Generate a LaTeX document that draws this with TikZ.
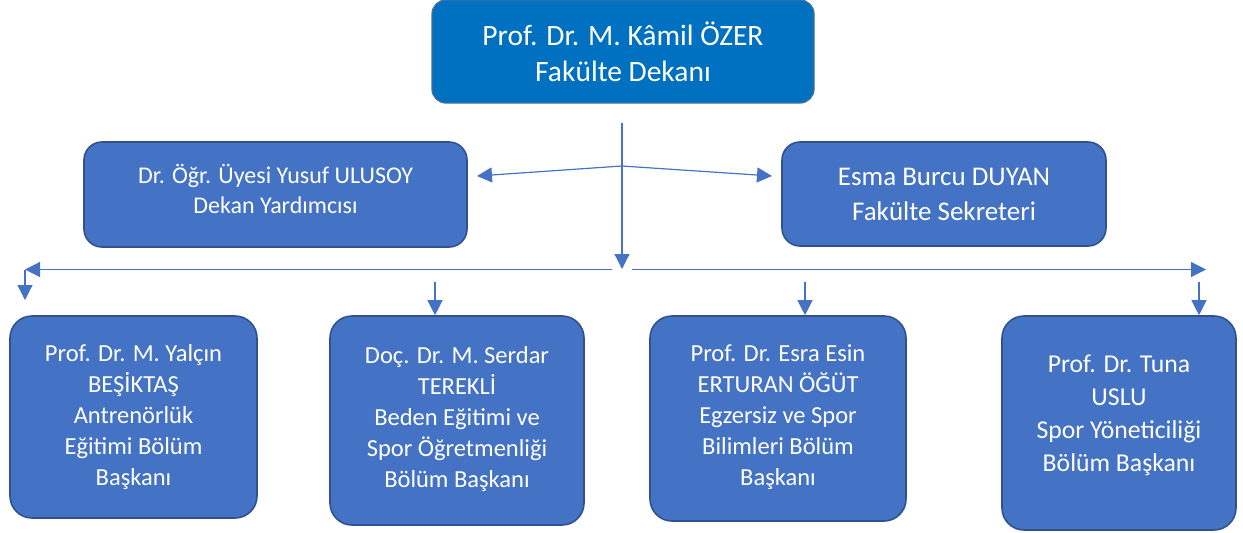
\documentclass[tikz,border=0pt]{standalone}
\usepackage{fontspec}
\setmainfont{Carlito}
\usetikzlibrary{arrows.meta}
\definecolor{topblue}{HTML}{0070C0}
\definecolor{topedge}{HTML}{41719C}
\definecolor{boxblue}{HTML}{4472C4}
\definecolor{boxedge}{HTML}{2F528F}
\definecolor{linecol}{HTML}{4472C4}
\tikzset{
  x=1pt,y=-1pt,
  orgbox/.style={draw=boxedge,line width=1.6pt,fill=boxblue,rounded corners=22pt,inner sep=0pt},
  boxtext/.style={text=white,align=center,inner sep=0pt},
  conn/.style={draw=linecol,line width=1.2pt,-{Triangle[length=15pt,width=15pt]}},
  plain/.style={draw=linecol,line width=1.2pt},
}
\begin{document}
\begin{tikzpicture}
\useasboundingbox (0,0) rectangle (1243,533);
% top
\node[draw=topedge,line width=1.3pt,fill=topblue,rounded corners=14pt,text=white,align=center,
      minimum width=382pt,minimum height=103pt,inner sep=0pt,font=\fontsize{29.5}{36}\selectfont]
  (dean) at (623,51.5) {Prof. Dr. M. Kâmil ÖZER\\Fakülte Dekanı};
% second row
\node[orgbox,rounded corners=18pt,minimum width=383pt,minimum height=105pt] (vice) at (275.5,194.5) {};
\node[boxtext,font=\fontsize{24}{30}\selectfont] (vicet) at ([yshift=6pt]vice.center)
  {Dr. Öğr. Üyesi Yusuf ULUSOY\\Dekan Yardımcısı};
\node[orgbox,rounded corners=18pt,minimum width=324pt,minimum height=104pt] (sec) at (944,194) {};
\node[boxtext,font=\fontsize{27}{35}\selectfont] (sect) at (sec.center)
  {Esma Burcu DUYAN\\Fakülte Sekreteri};
% bottom row
\node[orgbox,minimum width=247pt,minimum height=202pt] (b1) at (133.5,417) {};
\node[boxtext,font=\fontsize{24.5}{31}\selectfont] (b1t) at (b1.center)
  {Prof. Dr. M. Yalçın\\BEŞİKTAŞ\\Antrenörlük\\Eğitimi Bölüm\\Başkanı};
\node[orgbox,minimum width=254pt,minimum height=209pt] (b2) at (457,420.5) {};
\node[boxtext,font=\fontsize{24.5}{31}\selectfont] (b2t) at ([yshift=1.5pt]b2.center)
  {Doç. Dr. M. Serdar\\TEREKLİ\\Beden Eğitimi ve\\Spor Öğretmenliği\\Bölüm Başkanı};
\node[orgbox,minimum width=256pt,minimum height=205pt] (b3) at (778,418.5) {};
\node[boxtext,font=\fontsize{24.5}{31}\selectfont] (b3t) at ([yshift=1pt]b3.center)
  {Prof. Dr. Esra Esin\\ERTURAN ÖĞÜT\\Egzersiz ve Spor\\Bilimleri Bölüm\\Başkanı};
\node[orgbox,minimum width=234pt,minimum height=214pt] (b4) at (1119,423) {};
\node[boxtext,font=\fontsize{25.7}{33}\selectfont] (b4t) at ([yshift=8pt]b4.center)
  {Prof. Dr. Tuna\\USLU\\Spor Yöneticiliği\\Bölüm Başkanı};
% connectors
\coordinate (ts) at (622,123);
\coordinate (j) at (622,166);
\coordinate (tl) at (477,176);
\coordinate (tr) at (772,176);
\coordinate (te) at (622,269);
\draw[plain] (ts) -- (j);
\draw[conn] (j) -- (te);
\draw[conn] (j) -- (tl);
\draw[conn] (j) -- (tr);
\coordinate (hl0) at (612,269.5);
\coordinate (hl1) at (25,269.5);
\coordinate (hr0) at (632,269.5);
\coordinate (hr1) at (1206,269.5);
\draw[conn] (hl0) -- (hl1);
\draw[conn] (hr0) -- (hr1);
\coordinate (d1) at (25,269.5);
\coordinate (d1e) at (25,300);
\draw[conn] (d1) -- (d1e);
\coordinate (d2) at (435,282);
\draw[conn] (d2) -- (b2.north -| d2);
\coordinate (d3) at (805,282);
\draw[conn] (d3) -- (b3.north -| d3);
\coordinate (d4) at (1199,282);
\draw[conn] (d4) -- (b4.north -| d4);
\end{tikzpicture}
\end{document}
